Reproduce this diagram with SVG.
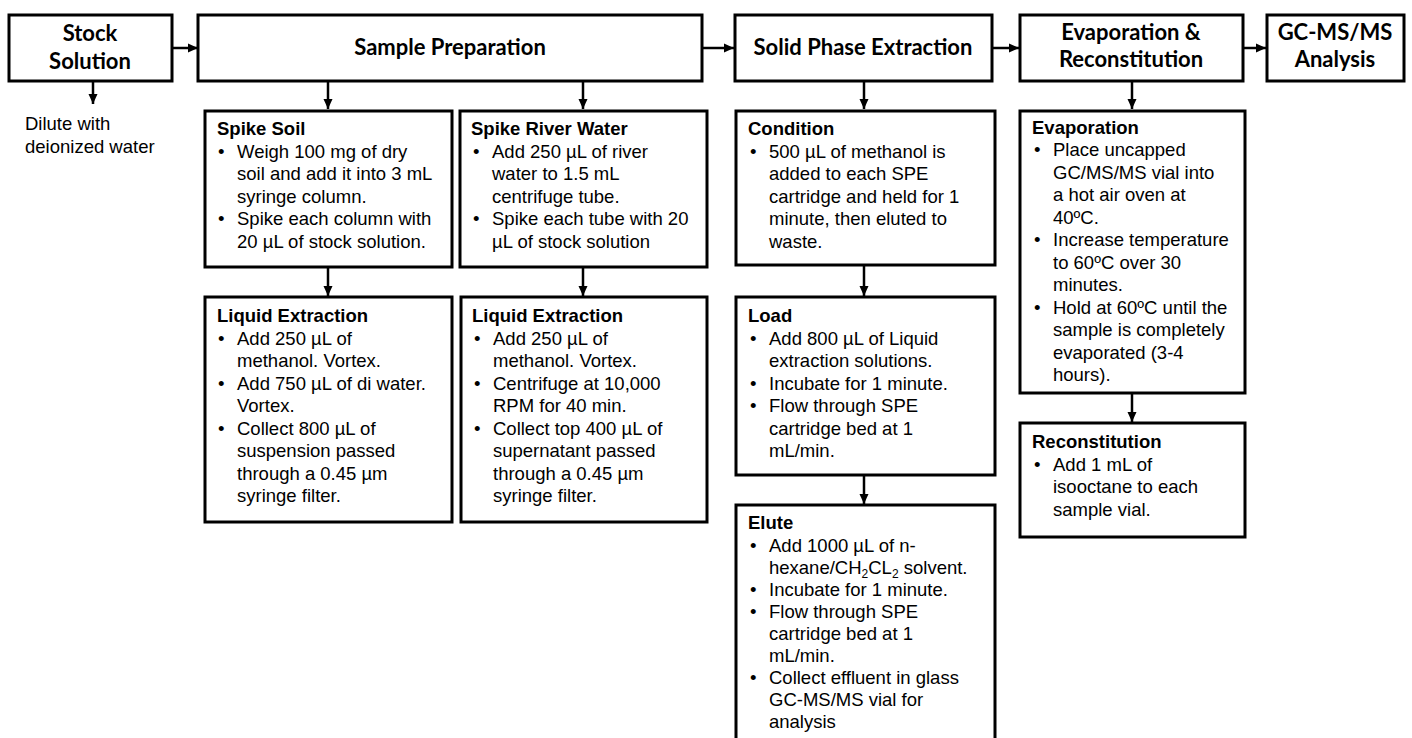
<svg xmlns="http://www.w3.org/2000/svg" width="1412" height="738" viewBox="0 0 1412 738">
<style>
.box{fill:#fff;stroke:#000;stroke-width:3}
.hd{font-family:Lato,"Liberation Sans",sans-serif;font-weight:700;font-size:22px;fill:#000;text-anchor:middle}
.t{font-family:"Liberation Sans",Arial,sans-serif;font-size:18.5px;fill:#000}
.b{font-weight:700}
.c{stroke:#000;stroke-width:2.5;fill:none;marker-end:url(#ah)}
</style>
<defs>
<marker id="ah" markerUnits="userSpaceOnUse" markerWidth="10" markerHeight="10" refX="10" refY="5" orient="auto">
<path d="M0,0.5 L10,5 L0,9.5 Z" fill="#000"/>
</marker>
</defs>
<g id="connectors">
<line class="c" x1="172" y1="48" x2="198" y2="48"/>
<line class="c" x1="702" y1="48" x2="734" y2="48"/>
<line class="c" x1="992" y1="48" x2="1019" y2="48"/>
<line class="c" x1="1243" y1="48" x2="1266" y2="48"/>
<line class="c" x1="93" y1="81" x2="93" y2="104"/>
<line class="c" x1="328" y1="81" x2="328" y2="109"/>
<line class="c" x1="583" y1="81" x2="583" y2="109"/>
<line class="c" x1="864" y1="81" x2="864" y2="109"/>
<line class="c" x1="1132" y1="81" x2="1132" y2="109"/>
<line class="c" x1="328" y1="267" x2="328" y2="296"/>
<line class="c" x1="583" y1="267" x2="583" y2="296"/>
<line class="c" x1="864" y1="265" x2="864" y2="296"/>
<line class="c" x1="864" y1="475" x2="864" y2="504"/>
<line class="c" x1="1132" y1="393" x2="1132" y2="422"/>
</g>
<g id="stock">
<rect class="box" x="9" y="15" width="163" height="66"/>
<text class="hd" x="90" y="41">Stock</text>
<text class="hd" x="90" y="69">Solution</text>
</g>
<g id="dilute">
<text class="t" x="25" y="130">Dilute with</text>
<text class="t" x="25" y="153">deionized water</text>
</g>
<g id="sampleprep">
<rect class="box" x="198" y="15" width="504" height="66"/>
<text class="hd" x="450" y="55">Sample Preparation</text>
</g>
<g id="spe">
<rect class="box" x="735" y="15" width="257" height="66"/>
<text class="hd" x="863" y="55">Solid Phase Extraction</text>
</g>
<g id="evaprecon">
<rect class="box" x="1020" y="15" width="223" height="66"/>
<text class="hd" x="1131" y="40">Evaporation &amp;</text>
<text class="hd" x="1131" y="67">Reconstitution</text>
</g>
<g id="gcms">
<rect class="box" x="1267" y="15" width="137" height="66"/>
<text class="hd" x="1335" y="40">GC-MS/MS</text>
<text class="hd" x="1335" y="67">Analysis</text>
</g>
<g id="spikesoil">
<rect class="box" x="205" y="111" width="247" height="156"/>
<text class="t b" x="217" y="135">Spike Soil</text>
<text class="t"><tspan x="218" y="157.5">•</tspan><tspan x="237" y="157.5">Weigh 100 mg of dry</tspan><tspan x="237" y="180">soil and add it into 3 mL</tspan><tspan x="237" y="202.5">syringe column.</tspan><tspan x="218" y="225">•</tspan><tspan x="237" y="225">Spike each column with</tspan><tspan x="237" y="247.5">20 µL of stock solution.</tspan></text>
</g>
<g id="spikeriver">
<rect class="box" x="460" y="111" width="247" height="156"/>
<text class="t b" x="471" y="135">Spike River Water</text>
<text class="t"><tspan x="473" y="157.5">•</tspan><tspan x="492" y="157.5">Add 250 µL of river</tspan><tspan x="492" y="180">water to 1.5 mL</tspan><tspan x="492" y="202.5">centrifuge tube.</tspan><tspan x="473" y="225">•</tspan><tspan x="492" y="225">Spike each tube with 20</tspan><tspan x="492" y="247.5">µL of stock solution</tspan></text>
</g>
<g id="liquid1">
<rect class="box" x="205" y="297" width="247" height="225"/>
<text class="t b" x="217" y="322">Liquid Extraction</text>
<text class="t"><tspan x="218" y="344.5">•</tspan><tspan x="237" y="344.5">Add 250 µL of</tspan><tspan x="237" y="367">methanol. Vortex.</tspan><tspan x="218" y="389.5">•</tspan><tspan x="237" y="389.5">Add 750 µL of di water.</tspan><tspan x="237" y="412">Vortex.</tspan><tspan x="218" y="434.5">•</tspan><tspan x="237" y="434.5">Collect 800 µL of</tspan><tspan x="237" y="457">suspension passed</tspan><tspan x="237" y="479.5">through a 0.45 µm</tspan><tspan x="237" y="502">syringe filter.</tspan></text>
</g>
<g id="liquid2">
<rect class="box" x="461" y="297" width="246" height="225"/>
<text class="t b" x="472" y="322">Liquid Extraction</text>
<text class="t"><tspan x="474" y="344.5">•</tspan><tspan x="493" y="344.5">Add 250 µL of</tspan><tspan x="493" y="367">methanol. Vortex.</tspan><tspan x="474" y="389.5">•</tspan><tspan x="493" y="389.5">Centrifuge at 10,000</tspan><tspan x="493" y="412">RPM for 40 min.</tspan><tspan x="474" y="434.5">•</tspan><tspan x="493" y="434.5">Collect top 400 µL of</tspan><tspan x="493" y="457">supernatant passed</tspan><tspan x="493" y="479.5">through a 0.45 µm</tspan><tspan x="493" y="502">syringe filter.</tspan></text>
</g>
<g id="condition">
<rect class="box" x="736" y="111" width="259" height="154"/>
<text class="t b" x="748" y="135">Condition</text>
<text class="t"><tspan x="750" y="157.5">•</tspan><tspan x="769" y="157.5">500 µL of methanol is</tspan><tspan x="769" y="180">added to each SPE</tspan><tspan x="769" y="202.5">cartridge and held for 1</tspan><tspan x="769" y="225">minute, then eluted to</tspan><tspan x="769" y="247.5">waste.</tspan></text>
</g>
<g id="load">
<rect class="box" x="736" y="297" width="259" height="178"/>
<text class="t b" x="748" y="322">Load</text>
<text class="t"><tspan x="750" y="344.5">•</tspan><tspan x="769" y="344.5">Add 800 µL of Liquid</tspan><tspan x="769" y="367">extraction solutions.</tspan><tspan x="750" y="389.5">•</tspan><tspan x="769" y="389.5">Incubate for 1 minute.</tspan><tspan x="750" y="412">•</tspan><tspan x="769" y="412">Flow through SPE</tspan><tspan x="769" y="434.5">cartridge bed at 1</tspan><tspan x="769" y="457">mL/min.</tspan></text>
</g>
<g id="elute">
<rect class="box" x="736" y="505" width="259" height="245"/>
<text class="t b" x="748" y="529">Elute</text>
<text class="t"><tspan x="750" y="551.5">•</tspan><tspan x="769" y="551.5">Add 1000 µL of n-</tspan><tspan x="769" y="573.5">hexane/CH<tspan font-size="12" dy="4">2</tspan><tspan dy="-4">CL</tspan><tspan font-size="12" dy="4">2</tspan><tspan dy="-4"> solvent.</tspan></tspan><tspan x="750" y="595.5">•</tspan><tspan x="769" y="595.5">Incubate for 1 minute.</tspan><tspan x="750" y="617.5">•</tspan><tspan x="769" y="617.5">Flow through SPE</tspan><tspan x="769" y="639.5">cartridge bed at 1</tspan><tspan x="769" y="661.5">mL/min.</tspan><tspan x="750" y="683.5">•</tspan><tspan x="769" y="683.5">Collect effluent in glass</tspan><tspan x="769" y="705.5">GC-MS/MS vial for</tspan><tspan x="769" y="727.5">analysis</tspan></text>
</g>
<g id="evaporation">
<rect class="box" x="1020" y="111" width="225" height="282"/>
<text class="t b" x="1032" y="134">Evaporation</text>
<text class="t"><tspan x="1034" y="156">•</tspan><tspan x="1053" y="156">Place uncapped</tspan><tspan x="1053" y="178.5">GC/MS/MS vial into</tspan><tspan x="1053" y="201">a hot air oven at</tspan><tspan x="1053" y="223.5">40ºC.</tspan><tspan x="1034" y="246">•</tspan><tspan x="1053" y="246">Increase temperature</tspan><tspan x="1053" y="268.5">to 60ºC over 30</tspan><tspan x="1053" y="291">minutes.</tspan><tspan x="1034" y="313.5">•</tspan><tspan x="1053" y="313.5">Hold at 60ºC until the</tspan><tspan x="1053" y="336">sample is completely</tspan><tspan x="1053" y="358.5">evaporated (3-4</tspan><tspan x="1053" y="381">hours).</tspan></text>
</g>
<g id="reconstitution">
<rect class="box" x="1020" y="423" width="225" height="114"/>
<text class="t b" x="1032" y="448">Reconstitution</text>
<text class="t"><tspan x="1034" y="470.5">•</tspan><tspan x="1053" y="470.5">Add 1 mL of</tspan><tspan x="1053" y="493">isooctane to each</tspan><tspan x="1053" y="515.5">sample vial.</tspan></text>
</g>
</svg>
